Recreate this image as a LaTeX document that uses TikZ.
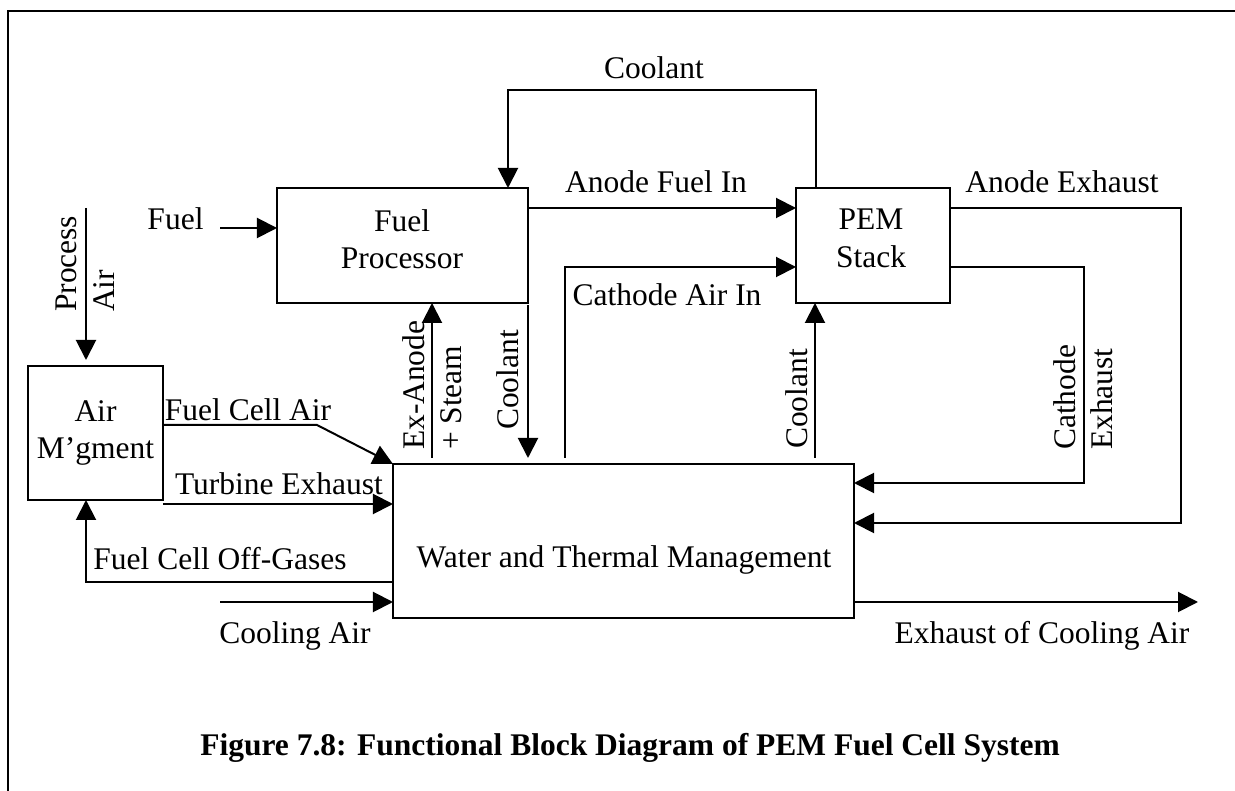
\documentclass[tikz,border=0pt]{standalone}
\usepackage{fontspec}
\setmainfont{Liberation Serif}
\usetikzlibrary{arrows.meta,positioning}
\newcommand{\figfont}{\fontsize{12.6}{15}\selectfont}
\tikzset{
  bloque/.style={draw, line width=0.8pt, outer sep=0pt, inner sep=0pt, align=center, font=\figfont},
  etiq/.style={font=\figfont, inner sep=1pt, align=center},
  etiqv/.style={etiq, rotate=90, align=left},
  flujo/.style={->, line width=0.8pt},
}
\begin{document}
\begin{tikzpicture}[x=0.4pt, y=-0.4pt, >={Triangle[length=8pt,width=8pt]}]
  \useasboundingbox (0,0) rectangle (1235,791);
  % Marco
  \draw[line width=0.8pt] (8,791) -- (8,11) -- (1235,11);

  % Bloques
  \node[bloque, minimum width=100.4pt, minimum height=46pt] (fp) at (402.5,245.5) {};
  \node[etiq] (fptxt) at (402,239) {Fuel\\Processor};
  \node[bloque, minimum width=61.6pt, minimum height=46pt] (pem) at (873,245.5) {};
  \node[etiq] (pemtxt) at (871,238.5) {PEM\\Stack};
  \node[bloque, minimum width=54pt, minimum height=53.6pt] (air) at (95.5,433) {Air\\M'gment};
  \node[bloque, minimum width=184.4pt, minimum height=61.6pt] (wtm) at (623.5,541) {};
  \node[etiq] (wtmtxt) at (624,560) {Water and Thermal Management};

  % Combustible y anodo
  \coordinate (fuelin) at (220,228);
  \draw[flujo] (fuelin) -- (fp.west |- fuelin);
  \coordinate (yafi) at (0,208);
  \draw[flujo] (fp.east |- yafi) -- (pem.west |- yafi);

  % Refrigerante de la pila al procesador
  \coordinate (ct1) at (816,90);
  \coordinate (ct2) at (508,90);
  \draw[flujo] (pem.north -| ct1) -- (ct1) -- (ct2) -- (fp.north -| ct2);

  % Aire del catodo
  \coordinate (cai) at (565,267);
  \draw[flujo, shorten <=2.4pt] (wtm.north -| cai) -- (cai) -- (pem.west |- cai);

  % Flujos verticales sobre el bloque de agua
  \coordinate (exa) at (432,0);
  \draw[flujo, shorten <=2.4pt] (wtm.north -| exa) -- (fp.south -| exa);
  \draw[flujo, shorten <=0.8pt, shorten >=2.4pt] (fp.south east) -- (wtm.north -| fp.south east);
  \coordinate (cup) at (815,0);
  \draw[flujo, shorten <=2.4pt] (wtm.north -| cup) -- (pem.south -| cup);

  % Escapes de la pila
  \coordinate (ae1) at (1181,208);
  \coordinate (ae2) at (1181,523);
  \draw[flujo] (pem.east |- ae1) -- (ae1) -- (ae2) -- (wtm.east |- ae2);
  \coordinate (ce1) at (1084,267);
  \coordinate (ce2) at (1084,483);
  \draw[flujo] (pem.east |- ce1) -- (ce1) -- (ce2) -- (wtm.east |- ce2);

  % Aire de refrigeracion
  \coordinate (cain) at (220,602);
  \coordinate (caout) at (1198,602);
  \draw[flujo] (cain) -- (wtm.west |- cain);
  \draw[flujo] (wtm.east |- caout) -- (caout);

  % Gestion del aire
  \coordinate (pa) at (86,208);
  \draw[flujo, shorten >=2.4pt] (pa) -- (air.north -| pa);
  \coordinate (fca) at (317,425);
  \draw[flujo] (air.east |- fca) -- (fca) -- (wtm.north west);
  \coordinate (te) at (0,504);
  \draw[flujo] (air.east |- te) -- (wtm.west |- te);
  \coordinate (og) at (86,582);
  \draw[flujo] (wtm.west |- og) -- (og) -- (air.south -| og);

  % Etiquetas
  \node[etiq] (lcool1) at (654,68) {Coolant};
  \node[etiq] (lafi) at (656,182) {Anode Fuel In};
  \node[etiq] (lcai) at (667,295) {Cathode Air In};
  \node[etiq] (lfuel) at (175.5,219) {Fuel};
  \node[etiq] (lfca) at (248,410) {Fuel Cell Air};
  \node[etiq] (lte) at (279,484) {Turbine Exhaust};
  \node[etiq] (log) at (220,559) {Fuel Cell Off-Gases};
  \node[etiq] (lcain) at (295,636) {Cooling Air};
  \node[etiq] (lcaout) at (1042,636) {Exhaust of Cooling Air};
  \node[etiq] (lae) at (1062,182) {Anode Exhaust};
  \node[etiqv] (lcool2) at (508,380) {Coolant};
  \node[etiqv] (lcool3) at (797,399) {Coolant};
  \node[etiqv, anchor=west] (lpa) at (85,315) {Process\\Air};
  \node[etiqv, anchor=west] (lexa) at (432,453) {Ex-Anode\\+ Steam};
  \node[etiqv, anchor=west] (lce) at (1083,453) {Cathode\\Exhaust};

  % Titulo
  \node[etiq, font=\figfont\bfseries] (titulo) at (630,748) {Figure 7.8: Functional Block Diagram of PEM Fuel Cell System};
\end{tikzpicture}
\end{document}
